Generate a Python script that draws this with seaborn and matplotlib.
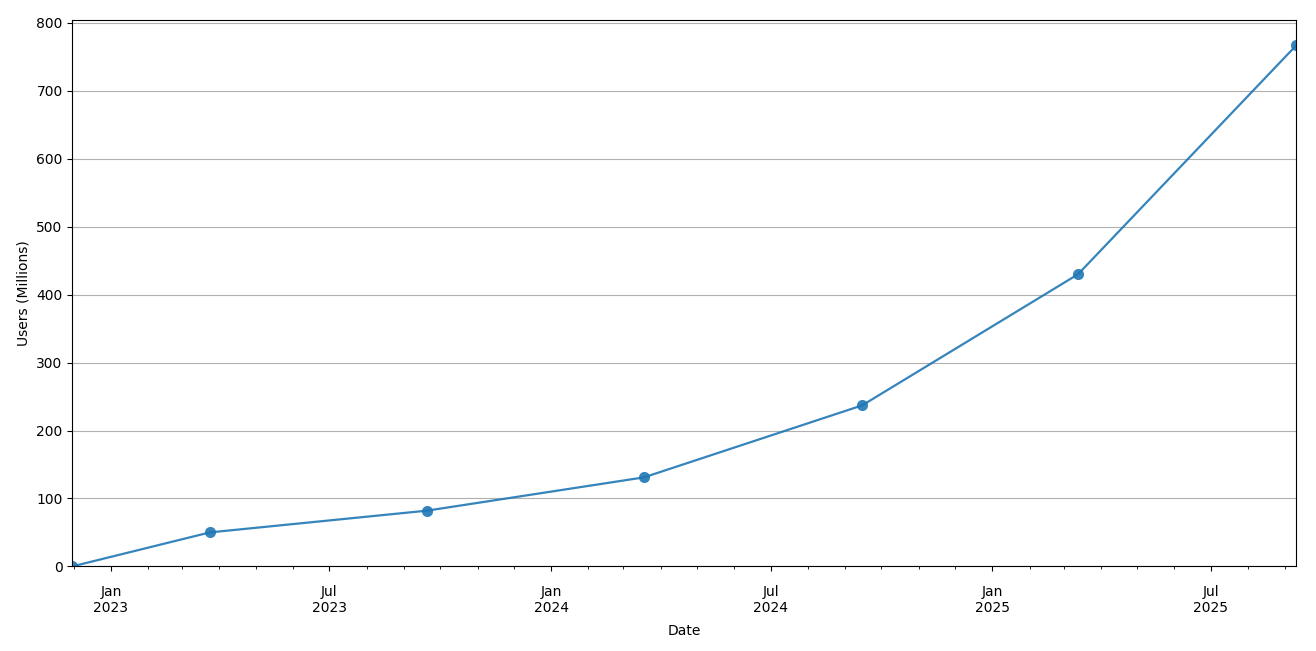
import pandas as pd
import matplotlib
matplotlib.use("Agg")
import matplotlib.pyplot as plt
import matplotlib.dates as mdates
import seaborn as sns

dates = ["2022-11-30", "2023-03-24", "2023-09-20", "2024-03-18",
         "2024-09-15", "2025-03-13", "2025-09-10"]
users = [0, 50, 82, 131, 237, 430, 767]

df = pd.DataFrame({"Date": pd.to_datetime(dates), "Users": users})

fig, ax = plt.subplots(figsize=(13.16, 6.51), dpi=100)
sns.lineplot(data=df, x="Date", y="Users", ax=ax, color="#1f77b4", alpha=0.9,
             marker="o", markersize=8, markeredgewidth=0, linewidth=1.6)

ax.set_xlim(df["Date"].min(), df["Date"].max())
ax.set_ylim(0, 805)
ax.xaxis.set_major_locator(mdates.MonthLocator(bymonth=[1, 7]))
ax.xaxis.set_major_formatter(mdates.DateFormatter("%b\n%Y"))
ax.xaxis.set_minor_locator(mdates.MonthLocator())
ax.tick_params(axis="x", which="major", pad=10)
for lbl in ax.get_xticklabels():
    lbl.set_ha("center")
ax.grid(axis="y", color="#b0b0b0", linewidth=0.8)
ax.set_xlabel("Date", labelpad=6)
ax.set_ylabel("Users (Millions)")

plt.subplots_adjust(left=0.055, right=0.985, top=0.97, bottom=0.13)
fig.savefig("out.png")
